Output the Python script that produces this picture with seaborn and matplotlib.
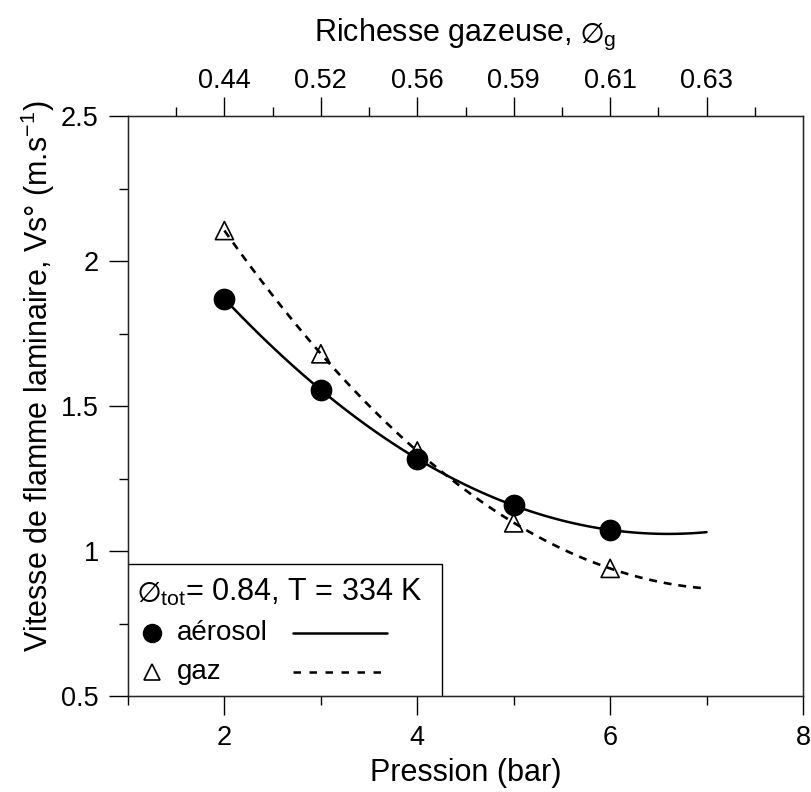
import numpy as np
import pandas as pd
import matplotlib.pyplot as plt
import seaborn as sns
from matplotlib.patches import Rectangle
from matplotlib.lines import Line2D

# données
pression = [2, 3, 4, 5, 6]
v_aerosol = [1.87, 1.555, 1.317, 1.159, 1.072]
v_gaz = [2.105, 1.68, 1.345, 1.097, 0.94]
richesse_pos = [2, 3, 4, 5, 6, 7]
richesse_labels = ['0.44', '0.52', '0.56', '0.59', '0.61', '0.63']

df = pd.DataFrame({'P': pression, 'aerosol': v_aerosol, 'gaz': v_gaz})

sns.set_style('ticks')
plt.rcParams['font.family'] = ['Liberation Sans', 'DejaVu Sans']
plt.rcParams['text.color'] = 'black'
plt.rcParams['axes.labelcolor'] = 'black'
plt.rcParams['xtick.labelcolor'] = 'black'
plt.rcParams['ytick.labelcolor'] = 'black'
plt.rcParams['mathtext.fontset'] = 'custom'
plt.rcParams['mathtext.rm'] = 'Liberation Sans'
plt.rcParams['mathtext.it'] = 'Liberation Sans:italic'
plt.rcParams['mathtext.fallback'] = 'stixsans'

fig = plt.figure(figsize=(8.11, 7.92), dpi=100)
ax = fig.add_axes([128/811, 96/792, 675/811, 580/792])

# courbes de tendance (ordre 2) entre 2 et 7 bar
ax.set_xlim(2, 7)
sns.regplot(data=df, x='P', y='aerosol', order=2, ci=None, scatter=False,
            truncate=False, ax=ax, line_kws={'color': 'black', 'lw': 1.8})
sns.regplot(data=df, x='P', y='gaz', order=2, ci=None, scatter=False,
            truncate=False, ax=ax,
            line_kws={'color': 'black', 'lw': 1.9, 'ls': (0, (3, 2.6))})

sns.scatterplot(data=df, x='P', y='aerosol', ax=ax, marker='o', s=210,
                color='black', ec='black', zorder=4)
sns.scatterplot(data=df, x='P', y='gaz', ax=ax, marker='^', s=170,
                facecolor='none', ec='black', lw=1.2, zorder=4)

ax.set_xlim(1, 8)
ax.set_ylim(0.5, 2.5)
ax.set_xticks([2, 4, 6, 8])
ax.set_xticks([1, 3, 5, 7], minor=True)
ax.set_yticks([0.5, 1, 1.5, 2, 2.5])
ax.set_yticklabels(['0.5', '1', '1.5', '2', '2.5'])
ax.set_yticks([0.75, 1.25, 1.75, 2.25], minor=True)
ax.tick_params(which='major', length=14, width=1, labelsize=19.5, pad=7,
               color='black')
ax.tick_params(which='minor', length=6.5, width=1, color='black')
for s in ax.spines.values():
    s.set_linewidth(1)
    s.set_color('black')

ax.set_xlabel('Pression (bar)', fontsize=22, labelpad=5)
ax.set_ylabel('Vitesse de flamme laminaire, Vs° (m.s$^{\\mathrm{-1}}$)',
              fontsize=22)
ax.yaxis.set_label_coords(-0.105, 0.552)

# axe du haut : richesse gazeuse
ax2 = ax.twiny()
ax2.set_xlim(1, 8)
ax2.set_xticks(richesse_pos)
ax2.set_xticklabels(richesse_labels)
ax2.set_xticks([1.5, 2.5, 3.5, 4.5, 5.5, 6.5, 7.5], minor=True)
ax2.tick_params(which='major', length=14, width=1, labelsize=19.5, pad=2,
                color='black')
ax2.tick_params(which='minor', length=6.5, width=1, color='black')
ax2.set_xlabel('Richesse gazeuse, $\\varnothing_{\\mathrm{g}}$', fontsize=22,
               labelpad=19)

# légende dessinée à la main (marqueur, texte, trait)
ax.add_patch(Rectangle((0, 0), 0.465, 0.2276, transform=ax.transAxes,
                       fc='white', ec='black', lw=1, zorder=5))
ax.text(0.013, 0.178, '$\\varnothing_{\\mathrm{tot}}$= 0.84, T = 334 K',
        transform=ax.transAxes, fontsize=22, va='center', zorder=6)
ax.add_line(Line2D([0.036], [0.109], transform=ax.transAxes, marker='o',
                   ms=13, color='black', ls='none', zorder=6))
ax.add_line(Line2D([0.036], [0.041], transform=ax.transAxes, marker='^',
                   ms=11, mfc='none', mec='black', mew=1.2, ls='none',
                   zorder=6))
ax.text(0.072, 0.109, 'aérosol', transform=ax.transAxes, fontsize=20,
        va='center', zorder=6)
ax.text(0.072, 0.041, 'gaz', transform=ax.transAxes, fontsize=20,
        va='center', zorder=6)
ax.add_line(Line2D([0.244, 0.384], [0.109, 0.109], transform=ax.transAxes,
                   color='black', lw=1.8, zorder=6))
ax.add_line(Line2D([0.244, 0.384], [0.041, 0.041], transform=ax.transAxes,
                   color='black', lw=1.8, ls=(0, (3, 3.4)), zorder=6))

fig.savefig('out.png', dpi=100)
